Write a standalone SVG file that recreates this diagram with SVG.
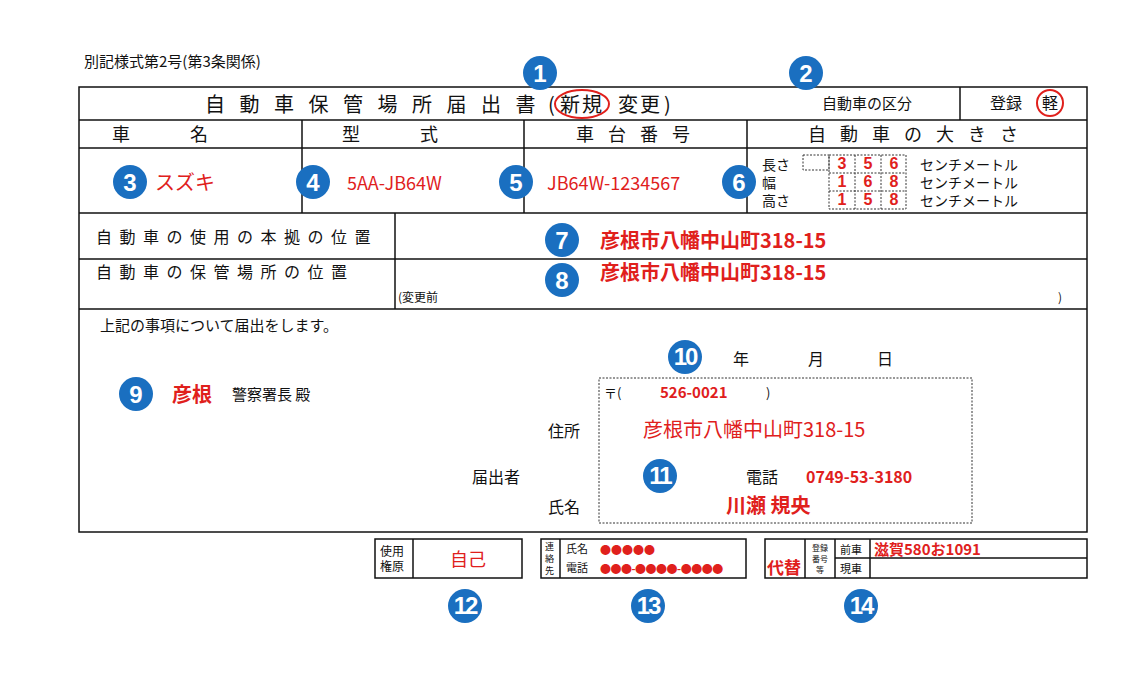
<svg xmlns="http://www.w3.org/2000/svg" width="1122" height="679" viewBox="0 0 1122 679">
<style>
text{font-family:"Noto Sans CJK JP","Liberation Sans",sans-serif;fill:#111}
.ln{stroke:#111;stroke-width:1.5;fill:none}
.dt{stroke:#333;stroke-width:1;stroke-dasharray:2 1.5;fill:none}
text.r{fill:#e0201c}
text.rb{fill:#e0201c;font-weight:bold}
.bc{fill:#1a6fc0}
text.bn{fill:#fff;font-family:"Liberation Sans",sans-serif;font-weight:bold;font-size:24px;text-anchor:middle}
.c{text-anchor:middle}
text.d{fill:#e0201c;font-family:"Liberation Sans",sans-serif;font-weight:bold;font-size:16px;text-anchor:middle}
</style>
<rect width="1122" height="679" fill="#fff"/>
<text x="84" y="67" font-size="15">別記様式第2号(第3条関係)</text>
<g id="form">
<rect class="ln" x="79" y="87" width="1008" height="445"/>
<line class="ln" x1="79" y1="120" x2="1087" y2="120"/>
<line class="ln" x1="960" y1="87" x2="960" y2="120"/>
<line class="ln" x1="79" y1="148" x2="1087" y2="148"/>
<line class="ln" x1="79" y1="213" x2="1087" y2="213"/>
<line class="ln" x1="79" y1="259" x2="1087" y2="259"/>
<line class="ln" x1="79" y1="309" x2="1087" y2="309"/>
<line class="ln" x1="302" y1="120" x2="302" y2="213"/>
<line class="ln" x1="524" y1="120" x2="524" y2="213"/>
<line class="ln" x1="747" y1="120" x2="747" y2="213"/>
<line class="ln" x1="395" y1="213" x2="395" y2="309"/>
<text x="205" y="112" font-size="20" letter-spacing="14.5">自動車保管場所届出書</text>
<text x="548" y="112" font-size="20">(</text>
<text x="560" y="112" font-size="20" letter-spacing="2">新規</text>
<text x="618" y="112" font-size="20" letter-spacing="2">変更</text>
<text x="664" y="112" font-size="20">)</text>
<ellipse cx="582" cy="104" rx="27" ry="14" fill="none" stroke="#e0201c" stroke-width="2"/>
<text x="822" y="109" font-size="15">自動車の区分</text>
<text x="990" y="109" font-size="16">登録</text>
<text x="1042" y="109" font-size="16">軽</text>
<circle cx="1050" cy="103" r="13" fill="none" stroke="#e0201c" stroke-width="2"/>
<text x="190" y="141" font-size="18" class="c" letter-spacing="60">車名</text>
<text x="420" y="141" font-size="18" class="c" letter-spacing="60">型式</text>
<text x="640" y="141" font-size="18" class="c" letter-spacing="14">車台番号</text>
<text x="920" y="141" font-size="18" class="c" letter-spacing="14">自動車の大きさ</text>
<text x="155" y="190" font-size="20" class="r">スズキ</text>
<text x="347" y="190" font-size="18" class="r" font-family="Liberation Sans">5AA-JB64W</text>
<text x="547" y="190" font-size="18" class="r" font-family="Liberation Sans">JB64W-1234567</text>
<text x="762" y="170" font-size="14">長さ</text>
<text x="762" y="188" font-size="14">幅</text>
<text x="762" y="206" font-size="14">高さ</text>
<rect class="dt" x="803" y="155" width="26" height="15"/>
<rect class="dt" x="829" y="155" width="77" height="54"/>
<line class="dt" x1="829" y1="173" x2="906" y2="173"/>
<line class="dt" x1="829" y1="191" x2="906" y2="191"/>
<line class="dt" x1="855" y1="155" x2="855" y2="209"/>
<line class="dt" x1="881" y1="155" x2="881" y2="209"/>
<text class="d" x="842" y="169">3</text><text class="d" x="868" y="169">5</text><text class="d" x="894" y="169">6</text>
<text class="d" x="842" y="187">1</text><text class="d" x="868" y="187">6</text><text class="d" x="894" y="187">8</text>
<text class="d" x="842" y="205">1</text><text class="d" x="868" y="205">5</text><text class="d" x="894" y="205">8</text>
<text x="920" y="170" font-size="14">センチメートル</text>
<text x="920" y="188" font-size="14">センチメートル</text>
<text x="920" y="206" font-size="14">センチメートル</text>
<text x="96" y="243" font-size="16" letter-spacing="7.5">自動車の使用の本拠の位置</text>
<text x="96" y="278" font-size="16" letter-spacing="7.5">自動車の保管場所の位置</text>
<text x="600" y="248" font-size="20" class="rb">彦根市八幡中山町318-15</text>
<text x="600" y="280" font-size="20" class="rb">彦根市八幡中山町318-15</text>
<text x="398" y="302" font-size="12">(変更前</text>
<text x="1058" y="302" font-size="12">)</text>
<text x="100" y="331" font-size="15">上記の事項について届出をします。</text>
<text x="733" y="365" font-size="16">年</text>
<text x="808" y="365" font-size="16">月</text>
<text x="877" y="365" font-size="16">日</text>
<text x="172" y="402" font-size="20" class="rb">彦根</text>
<text x="232" y="400" font-size="15">警察署長  殿</text>
<rect class="dt" x="599" y="378" width="373" height="145"/>
<text x="604" y="398" font-size="13">〒(</text>
<text x="660" y="398" font-size="15" class="r" font-family="Liberation Sans" font-weight="bold">526-0021</text>
<text x="766" y="398" font-size="13">)</text>
<text x="548" y="437" font-size="16">住所</text>
<text x="643" y="437" font-size="20" class="r">彦根市八幡中山町318-15</text>
<text x="472" y="483" font-size="16">届出者</text>
<text x="746" y="483" font-size="16">電話</text>
<text x="806" y="483" font-size="16" class="r" font-family="Liberation Sans" font-weight="bold">0749-53-3180</text>
<text x="548" y="513" font-size="16">氏名</text>
<text x="726" y="513" font-size="20" class="rb">川瀬  規央</text>
</g>
<g id="bottom">
<rect class="ln" x="375" y="539" width="147" height="39"/>
<line class="ln" x1="413" y1="539" x2="413" y2="578"/>
<text x="380" y="556" font-size="12">使用</text>
<text x="380" y="571" font-size="12">権原</text>
<text x="468" y="566" font-size="18" class="r c">自己</text>
<rect class="ln" x="541" y="539" width="205" height="39"/>
<line class="ln" x1="560" y1="539" x2="560" y2="578"/>
<text x="545" y="550" font-size="9">連</text><text x="545" y="562" font-size="9">絡</text><text x="545" y="574" font-size="9">先</text>
<text x="566" y="553" font-size="11">氏名</text>
<text x="566" y="572" font-size="11">電話</text>
<text x="600" y="554" font-size="11" class="rb">●●●●●</text>
<text x="600" y="573" font-size="11" class="rb" letter-spacing="-0.5">●●●-●●●●-●●●●</text>
<rect class="ln" x="765" y="539" width="322" height="39"/>
<line class="ln" x1="805" y1="539" x2="805" y2="578"/>
<line class="ln" x1="835" y1="539" x2="835" y2="578"/>
<line class="ln" x1="870" y1="539" x2="870" y2="578"/>
<line class="ln" x1="835" y1="558" x2="1087" y2="558"/>
<text x="767" y="574" font-size="17" class="rb">代替</text>
<text x="820" y="551" font-size="8" class="c">登録</text>
<text x="820" y="562" font-size="8" class="c">番号</text>
<text x="820" y="573" font-size="8" class="c">等</text>
<text x="840" y="554" font-size="11">前車</text>
<text x="840" y="573" font-size="11">現車</text>
<text x="874" y="555" font-size="15" class="rb">滋賀580お1091</text>
</g>
<g id="markers">
<circle class="bc" cx="540" cy="73" r="17"/><text class="bn" x="540" y="82">1</text>
<circle class="bc" cx="806" cy="73" r="17"/><text class="bn" x="806" y="82">2</text>
<circle class="bc" cx="130" cy="182" r="17"/><text class="bn" x="130" y="191">3</text>
<circle class="bc" cx="313" cy="182" r="17"/><text class="bn" x="313" y="191">4</text>
<circle class="bc" cx="516" cy="182" r="17"/><text class="bn" x="516" y="191">5</text>
<circle class="bc" cx="739" cy="182" r="17"/><text class="bn" x="739" y="191">6</text>
<circle class="bc" cx="562" cy="240" r="17"/><text class="bn" x="562" y="249">7</text>
<circle class="bc" cx="562" cy="280" r="17"/><text class="bn" x="562" y="289">8</text>
<circle class="bc" cx="136" cy="394" r="17"/><text class="bn" x="136" y="403">9</text>
<circle class="bc" cx="685" cy="357" r="17"/><text class="bn" x="685" y="365" font-size="20" letter-spacing="-2">10</text>
<circle class="bc" cx="660" cy="476" r="17"/><text class="bn" x="660" y="484" font-size="20" letter-spacing="-2">11</text>
<circle class="bc" cx="465" cy="606" r="17"/><text class="bn" x="465" y="614" font-size="20" letter-spacing="-2">12</text>
<circle class="bc" cx="648" cy="606" r="17"/><text class="bn" x="648" y="614" font-size="20" letter-spacing="-2">13</text>
<circle class="bc" cx="861" cy="606" r="17"/><text class="bn" x="861" y="614" font-size="20" letter-spacing="-2">14</text>
</g>
</svg>
